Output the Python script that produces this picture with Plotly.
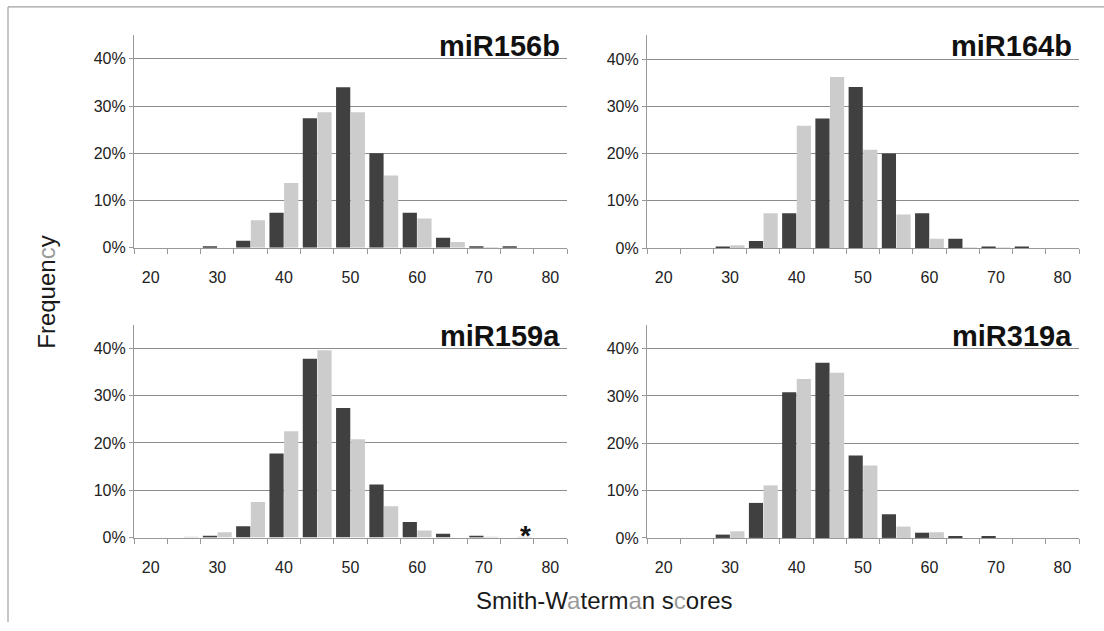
import plotly.graph_objects as go

W, H = 1104, 631

# ---------------- data ----------------
scores = [20, 25, 30, 35, 40, 45, 50, 55, 60, 65, 70, 75, 80]
tick_labels = ["20", "30", "40", "50", "60", "70", "80"]
tick_positions = [20, 30, 40, 50, 60, 70, 80]
freq_ticks = [0, 10, 20, 30, 40]
freq_labels = ["0%", "10%", "20%", "30%", "40%"]

miR156b_dark = [0, 0, 0.3, 1.5, 7.4, 27.4, 34.0, 20.0, 7.4, 2.1, 0.2, 0.2, 0]
miR156b_light = [0, 0, 0, 5.8, 13.7, 28.7, 28.7, 15.3, 6.2, 1.2, 0.1, 0, 0]

miR164b_dark = [0, 0, 0.2, 1.5, 7.4, 27.4, 34.1, 20.0, 7.4, 2.0, 0.2, 0.2, 0]
miR164b_light = [0, 0, 0.6, 7.4, 25.9, 36.2, 20.8, 7.1, 2.0, 0.1, 0.1, 0, 0]

miR159a_dark = [0, 0, 0.2, 2.4, 17.8, 37.8, 27.4, 11.2, 3.3, 0.8, 0.2, 0, 0]
miR159a_light = [0, 0.1, 1.1, 7.5, 22.5, 39.6, 20.8, 6.6, 1.5, 0, 0.1, 0.1, 0]

miR319a_dark = [0, 0, 0.7, 7.4, 30.8, 37.0, 17.4, 5.0, 1.1, 0.3, 0.3, 0, 0]
miR319a_light = [0, 0, 1.4, 11.1, 33.6, 34.9, 15.3, 2.4, 1.2, 0, 0, 0, 0]

panels = [
    ("miR156b", miR156b_dark, miR156b_light),
    ("miR164b", miR164b_dark, miR164b_light),
    ("miR159a", miR159a_dark, miR159a_light),
    ("miR319a", miR319a_dark, miR319a_light),
]

# ---------------- styling ----------------
DARK = "#404040"
LIGHT = "#cccccc"
GRID = "#8c8c8c"
AXIS = "#999999"
FONT = "Liberation Sans, Arial, sans-serif"

# pixel boxes of plot areas: (left, right, top, bottom)
boxes = [
    (134, 567, 35.7, 251.3),
    (647, 1079, 35.9, 251.7),
    (134, 567, 329.5, 545.3),
    (647, 1079, 329.7, 545.7),
]

def px(x):
    return x / W

def py(y):
    return 1 - y / H

fig = go.Figure()
minor_vals = [17.5 + 5 * k for k in range(14)]

for i, (name, dark, light) in enumerate(panels):
    n = "" if i == 0 else str(i + 1)
    xa, ya = "x" + n, "y" + n
    fig.add_trace(go.Bar(x=scores, y=dark, marker=dict(color=DARK, line=dict(width=0)),
                         xaxis=xa, yaxis=ya, showlegend=False, hoverinfo="x+y"))
    fig.add_trace(go.Bar(x=scores, y=light, marker=dict(color=LIGHT, line=dict(width=0)),
                         xaxis=xa, yaxis=ya, showlegend=False, hoverinfo="x+y"))
    l, r, t, b = boxes[i]
    fig.layout["xaxis" + n] = dict(
        domain=[px(l), px(r)], anchor=ya, range=[17.5, 82.5],
        tickmode="array", tickvals=tick_positions, ticktext=tick_labels,
        ticks="outside", ticklen=15, tickcolor="rgba(0,0,0,0)",
        showline=True, linecolor=AXIS, linewidth=1.2, showgrid=False, zeroline=False,
        minor=dict(tickmode="array", tickvals=minor_vals, ticks="outside",
                   ticklen=5, tickcolor=AXIS, tickwidth=1.2, showgrid=False),
        tickfont=dict(family=FONT, size=16, color="#222222"),
        fixedrange=True,
    )
    fig.layout["yaxis" + n] = dict(
        domain=[py(b), py(t)], anchor=xa, range=[0, 45],
        tickmode="array", tickvals=freq_ticks, ticktext=freq_labels,
        ticks="outside", ticklen=4, tickcolor=AXIS, tickwidth=1.2,
        showline=True, linecolor=AXIS, linewidth=1.2,
        showgrid=True, gridcolor=GRID, gridwidth=1.2, zeroline=False,
        tickfont=dict(family=FONT, size=16, color="#222222"),
        fixedrange=True,
    )
    # panel title
    fig.add_annotation(text="<b>" + name + "</b>", xref="paper", yref="paper",
                       x=px(r - 5), y=py(t + 11), xanchor="right", yanchor="middle",
                       showarrow=False, font=dict(family=FONT, size=29, color="#111111"))

# asterisk above the miR159a light bar at 75
fig.add_annotation(text="<b>*</b>", xref="x3", yref="paper", x=76.3, y=py(543),
                   xanchor="center", yanchor="middle", showarrow=False,
                   font=dict(family=FONT, size=28, color="#111111"))

# shared axis titles
fig.add_annotation(text="Frequen<span style='color:#9a9a9a'>c</span>y",
                   xref="paper", yref="paper", x=px(47), y=py(297),
                   textangle=-90, showarrow=False, xanchor="center", yanchor="middle",
                   font=dict(family=FONT, size=24, color="#1a1a1a"))
fig.add_annotation(text="Smith-W<span style='color:#9a9a9a'>a</span>term<span style='color:#9a9a9a'>a</span>n s<span style='color:#9a9a9a'>c</span>ores",
                   xref="paper", yref="paper", x=px(604.5), y=py(609),
                   showarrow=False, xanchor="center", yanchor="middle",
                   font=dict(family=FONT, size=24, color="#1a1a1a"))

# partial frame (top and left edge)
fig.add_shape(type="line", xref="paper", yref="paper", x0=px(8), x1=px(8), y0=0, y1=py(7),
              line=dict(color="#a0a0a0", width=1.2))
fig.add_shape(type="line", xref="paper", yref="paper", x0=px(8), x1=1, y0=py(7), y1=py(7),
              line=dict(color="#a0a0a0", width=1.2))

fig.update_layout(
    width=W, height=H,
    margin=dict(l=0, r=0, t=0, b=0),
    paper_bgcolor="white", plot_bgcolor="white",
    barmode="group", bargap=0.12, bargroupgap=0.03,
    font=dict(family=FONT),
)

fig.write_html("out.html")
